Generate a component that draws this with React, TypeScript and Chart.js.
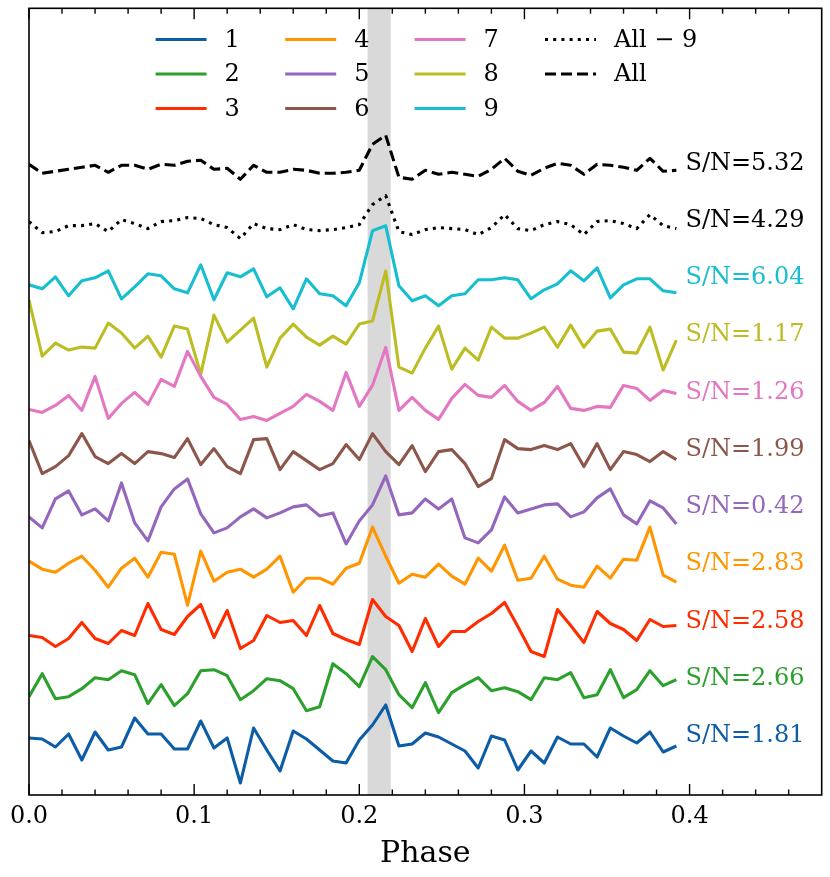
import { useEffect, useRef } from "react";
import { Chart, registerables } from "chart.js";

Chart.register(...registerables);

const SERIF = '"DejaVu Serif", "Liberation Serif", serif';

// Phase bins
const PHASE = [
  0, 0.008, 0.016, 0.024, 0.032, 0.04, 0.048, 0.056, 0.064, 0.072,
  0.08, 0.088, 0.096, 0.104, 0.112, 0.12, 0.128, 0.136, 0.144, 0.152,
  0.16, 0.168, 0.176, 0.184, 0.192, 0.2, 0.208, 0.216, 0.224, 0.232,
  0.24, 0.248, 0.256, 0.264, 0.272, 0.28, 0.288, 0.296, 0.304, 0.312,
  0.32, 0.328, 0.336, 0.344, 0.352, 0.36, 0.368, 0.376, 0.384, 0.392,
];

// Relative flux of each light curve (arbitrary units, before vertical offset)
const S1 = [-2, -3, -11, 2, -24, 4, -14, -11, 18, 2, 2, -13, -13, 15, -12, -2, -47, 8, -14, -35, 5, -3, -14, -25, -27, -4, 11, 31, -10, -8, 3, -1, -8, -15, -32, 0, -4, -34, -15, -27, -1, -8, -8, -21, 8, 0, -7, 4, -16, -10];
const S2 = [-18, 5, -20, -18, -10, 1, -1, 8, 4, -25, -6, -27, -15, 8, 9, 3, -21, -12, 0, -2, -10, -32, -28, 15, 5, -8, 22, 9, -16, -29, -4, -34, -14, -6, 1, -12, -9, -13, -21, 1, -1, 6, -19, -16, 9, -19, -11, 8, -7, -1];
const S3 = [-14, -16, -25, -17, -1, -17, -22, -9, -14, 18, -8, -13, 5, 17, -16, 11, -27, -19, 6, -1, 1, -14, 16, -12, -18, -23, 22, 5, -4, -30, 3, -25, -10, -10, 0, 8, 19, -5, -30, -35, 12, -4, -21, 10, -2, -8, -19, 2, -5, -4];
const S4 = [3, -5, -8, 1, 8, -6, -23, -4, 6, -13, 12, 10, -41, 13, -17, -8, -5, -13, -5, 8, -28, -14, -14, -20, -4, 1, 37, 8, -19, -10, -13, 0, -12, -20, 6, -7, 19, -16, -14, 8, -15, -21, -23, -2, -14, 5, 4, 37, -11, -18];
const S5 = [-10, -21, 8, 16, -8, -2, -14, 24, -16, -34, 0, 18, 28, -7, -26, -21, -10, -2, -11, -6, 0, 2, -9, -6, -37, -14, 2, 31, -8, -6, 8, -2, 8, -31, -36, -23, 10, -6, -2, 2, 3, -10, -5, 9, 18, -8, -17, 6, -1, -17];
const S6 = [9, -24, -17, -6, 16, -7, -14, -4, -14, -2, -4, -8, 11, -15, 1, -17, -24, 10, 11, -20, -2, -11, -20, -14, 5, -10, 16, -2, -15, 4, -22, -2, 0, -14, -37, -29, 10, 1, 0, 4, 0, 6, -17, 6, -20, -2, -5, -12, -2, -10];
const S7 = [-17, -20, -13, -3, -18, 16, -26, -11, 0, -12, 13, 6, 41, 16, -5, -12, -27, -24, -28, -21, -14, -2, -9, -18, 20, -14, 7, 45, -18, -5, -18, -27, -6, 8, -3, -5, 7, -9, -18, -10, 6, -16, -18, -14, -15, 7, 4, -8, 2, -1];
const S8 = [35, -21, -8, -15, -12, -13, 12, 2, -13, -1, -22, 9, 6, -39, 20, -7, 5, 17, -32, -3, 11, -2, -10, -1, -9, 11, 14, 64, -32, -38, -13, 9, -34, -13, -25, 8, -3, -3, 2, 8, -12, 10, -12, 4, 6, -17, -18, 8, -35, -5];
const S9 = [-7, -11, 1, -18, -3, 0, 7, -21, -9, 4, 2, -11, -15, 13, -22, 5, 1, 9, -19, -10, -31, -1, -16, -18, -28, -5, 47, 52, -8, -23, -18, -28, -18, -16, -2, -2, 0, -2, -21, -12, -6, 7, -3, 10, -20, -7, -1, -1, -13, -15];
const S_ALL_MINUS_9 = [-1, -12, -11, -5, -5, -3, -11, 1, -3, -8, -1, 0, 3, 2, -4, -7, -18, -3, -8, -9, -4, -9, -10, -9, -7, -4, 16, 25, -11, -14, -9, -7, -8, -9, -14, -7, 6, -8, -10, -4, -1, -4, -14, -1, 0, -3, -8, 6, -5, -8];
const S_ALL = [-1, -10, -8, -6, -4, -2, -9, -2, -2, -6, -1, -2, 2, 3, -6, -5, -16, -2, -9, -9, -6, -7, -10, -10, -9, -7, 19, 28, -14, -16, -7, -11, -9, -11, -13, -6, 5, -8, -12, -5, 0, -2, -11, -1, -2, -4, -7, 5, -8, -7];

const SERIES = [S1, S2, S3, S4, S5, S6, S7, S8, S9, S_ALL_MINUS_9, S_ALL];
const NAMES = ["1", "2", "3", "4", "5", "6", "7", "8", "9", "All \u2212 9", "All"];
const SN_LABELS = ["S/N=1.81", "S/N=2.66", "S/N=2.58", "S/N=2.83", "S/N=0.42", "S/N=1.99", "S/N=1.26", "S/N=1.17", "S/N=6.04", "S/N=4.29", "S/N=5.32"];
const OFFSETS = [0, 57.3, 114.5, 171.8, 229.1, 286.4, 343.6, 400.9, 458.2, 515.4, 572.7];
const COLORS = ["#0C5DA5", "#2ca02c", "#FF2C00", "#FF9500", "#9467bd", "#8c564b", "#e377c2", "#bcbd22", "#17becf", "#000000", "#000000"];
const DASHES: number[][] = [[], [], [], [], [], [], [], [], [], [3, 5.2], [11, 5]];

const X_MIN = 0;
const X_MAX = 0.48;
const Y_MIN = -59;
const Y_MAX = 727.7;
const BAND = [0.205, 0.219];
const MAJOR_TICKS = [0, 0.1, 0.2, 0.3, 0.4];
const MINOR_TICKS = [0.02, 0.04, 0.06, 0.08, 0.12, 0.14, 0.16, 0.18, 0.22, 0.24, 0.26, 0.28, 0.32, 0.34, 0.36, 0.38, 0.42, 0.44, 0.46];
const SN_X = 0.3975;
const LINE_W = 3.1;

export default function App() {
  const ref = useRef<HTMLCanvasElement>(null);

  useEffect(() => {
    const canvas = ref.current;
    if (!canvas) return;

    const datasets = SERIES.map((vals, k) => ({
      label: NAMES[k],
      data: PHASE.map((x, i) => ({ x, y: OFFSETS[k] + vals[i] })),
      borderColor: COLORS[k],
      backgroundColor: COLORS[k],
      borderWidth: LINE_W,
      borderDash: DASHES[k],
      borderJoinStyle: "round" as const,
      borderCapStyle: "butt" as const,
      pointRadius: 0,
      fill: false,
      tension: 0,
    }));

    const decor = {
      id: "decor",
      beforeDatasetsDraw(chart: any) {
        const { ctx, chartArea: a, scales } = chart;
        const x = scales.x;
        ctx.save();
        ctx.fillStyle = "#d9d9d9";
        const x0 = x.getPixelForValue(BAND[0]);
        const x1 = x.getPixelForValue(BAND[1]);
        ctx.fillRect(x0, a.top, x1 - x0, a.bottom - a.top);
        ctx.restore();
      },
      afterDatasetsDraw(chart: any) {
        const { ctx, chartArea: a, scales } = chart;
        const x = scales.x;
        const y = scales.y;
        ctx.save();
        // frame
        ctx.strokeStyle = "#000";
        ctx.lineWidth = 1.6;
        ctx.setLineDash([]);
        ctx.strokeRect(a.left, a.top, a.right - a.left, a.bottom - a.top);
        // ticks (inward, top and bottom)
        ctx.lineWidth = 1.4;
        const drawTick = (v: number, len: number) => {
          const px = x.getPixelForValue(v);
          ctx.beginPath();
          ctx.moveTo(px, a.bottom);
          ctx.lineTo(px, a.bottom - len);
          ctx.moveTo(px, a.top);
          ctx.lineTo(px, a.top + len);
          ctx.stroke();
        };
        MAJOR_TICKS.forEach((v) => drawTick(v, 11));
        MINOR_TICKS.forEach((v) => drawTick(v, 5.5));

        // S/N labels
        ctx.font = `24px ${SERIF}`;
        ctx.textAlign = "left";
        ctx.textBaseline = "middle";
        SN_LABELS.forEach((t, k) => {
          ctx.fillStyle = COLORS[k];
          ctx.fillText(t, x.getPixelForValue(SN_X), y.getPixelForValue(OFFSETS[k]));
        });

        // legend (4 columns, filled column-wise)
        const colX = [155.6, 285.2, 414.6, 545];
        const rowY = [39.5, 74, 108.5];
        chart.data.datasets.forEach((ds: any, k: number) => {
          const c = Math.floor(k / 3);
          const r = k % 3;
          const lx = colX[c];
          const ly = rowY[r];
          ctx.strokeStyle = ds.borderColor;
          ctx.lineWidth = LINE_W;
          ctx.lineCap = "butt";
          ctx.setLineDash(ds.borderDash || []);
          ctx.beginPath();
          ctx.moveTo(lx, ly);
          ctx.lineTo(lx + 51, ly);
          ctx.stroke();
          ctx.setLineDash([]);
          ctx.fillStyle = "#000";
          ctx.fillText(ds.label, lx + 69, ly + 1);
        });
        ctx.restore();
      },
    };

    const chart = new Chart(canvas, {
      type: "line",
      data: { datasets },
      options: {
        animation: false,
        responsive: false,
        maintainAspectRatio: false,
        layout: { padding: { left: 29, right: 8.3, top: 8.3, bottom: 0 } },
        plugins: {
          legend: { display: false },
          tooltip: { enabled: false },
        },
        scales: {
          x: {
            type: "linear",
            min: X_MIN,
            max: X_MAX,
            grid: { display: false, drawTicks: false },
            border: { display: false },
            ticks: {
              stepSize: 0.1,
              includeBounds: false,
              autoSkip: false,
              maxRotation: 0,
              padding: 7,
              color: "#000",
              font: { family: SERIF, size: 24 },
              callback: (v: any) => Number(v).toFixed(1),
            },
            title: {
              display: true,
              text: "Phase",
              color: "#000",
              font: { family: SERIF, size: 30 },
              padding: { top: 0, bottom: 5 },
            },
            afterFit: (scale: any) => {
              scale.height = 82;
            },
          },
          y: {
            type: "linear",
            display: false,
            min: Y_MIN,
            max: Y_MAX,
          },
        },
      },
      plugins: [decor],
    } as any);

    return () => chart.destroy();
  }, []);

  return (
    <div style={{ position: "absolute", left: 0, top: 0, width: 830, height: 877, background: "#fff" }}>
      <canvas ref={ref} width={830} height={877} style={{ width: 830, height: 877, display: "block" }} />
    </div>
  );
}
